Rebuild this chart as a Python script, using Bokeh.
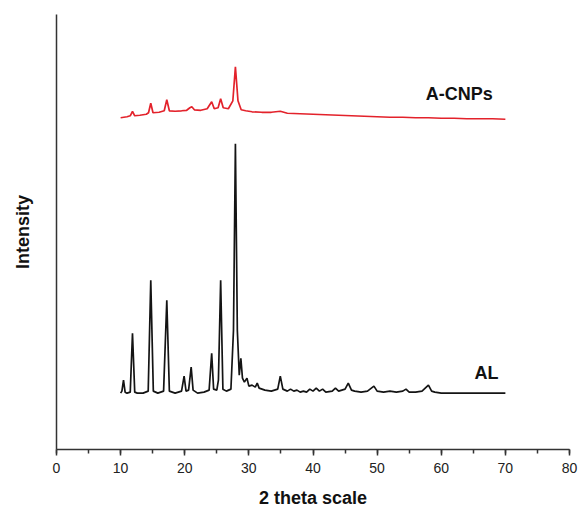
from bokeh.plotting import figure
from bokeh.models import Range1d, SingleIntervalTicker, FixedTicker, Label
from bokeh.embed import file_html
from bokeh.resources import INLINE

# 2-theta positions (degrees) and intensities (a.u.)
al_theta = [10.0, 10.2, 10.45, 10.7, 11.0, 11.5, 11.85, 12.2, 12.6, 13.5, 14.3, 14.7, 15.1, 15.8,
            16.7, 17.2, 17.6, 18.5, 19.5, 19.9, 20.2, 20.6, 21.0, 21.3, 22.0, 23.0, 23.8, 24.2,
            24.5, 25.0, 25.25, 25.6, 25.95, 26.5, 27.2, 27.6, 27.9, 28.2, 28.5, 28.75, 29.0, 29.3,
            29.7, 30.0, 30.5, 31.0, 31.3, 31.6, 32.5, 33.5, 34.5, 34.9, 35.3, 36.0, 36.5, 37.0,
            37.5, 38.0, 38.5, 39.0, 39.5, 40.0, 40.5, 41.0, 41.5, 42.0, 43.0, 43.5, 44.0, 45.0,
            45.5, 46.0, 46.5, 47.5, 48.5, 49.5, 50.0, 51.0, 52.0, 53.0, 54.0, 54.5, 55.0, 56.0,
            57.0, 58.0, 58.5, 59.0, 60.0, 62.0, 64.0, 66.0, 68.0, 70.0]
al_intensity = [57, 59, 70, 58, 57, 58, 117, 58, 57, 57, 59, 170, 59, 57,
                59, 150, 59, 57, 59, 74, 59, 60, 83, 60, 57, 58, 60, 97,
                61, 60, 70, 170, 61, 59, 61, 120, 307, 120, 75, 92, 72, 68,
                72, 64, 65, 63, 67, 62, 60, 59, 61, 74, 61, 59, 61, 59,
                60, 58, 59, 58, 61, 59, 62, 59, 61, 58, 59, 62, 59, 61,
                67, 60, 59, 58, 59, 64, 59, 58, 59, 58, 59, 61, 58, 58,
                59, 65, 59, 58, 57, 57, 57, 57, 57, 57]

cnp_theta = [10.0, 10.5, 11.0, 11.5, 11.85, 12.2, 13.0, 14.0, 14.35, 14.7, 15.05, 16.0, 16.8,
             17.2, 17.6, 18.5, 19.5, 20.3, 20.8, 21.1, 21.5, 22.5, 23.5, 24.2, 24.6, 25.2, 25.6,
             26.0, 26.8, 27.5, 27.9, 28.3, 28.8, 29.5, 30.5, 32.0, 33.5, 34.9, 36.0, 38.0, 40.0,
             42.0, 44.0, 46.0, 48.0, 50.0, 52.0, 54.0, 56.0, 58.0, 60.0, 62.0, 64.0, 66.0, 68.0, 70.0]
cnp_intensity = [333, 333.5, 334, 335, 339.5, 335, 335.5, 336.5, 338, 347.5, 338, 338.5, 340,
                 351, 340, 339.5, 340, 340.5, 343, 344, 341, 340.5, 342, 349, 342, 343, 352,
                 343, 342, 350, 384, 350, 341, 340, 339, 338.5, 338.5, 339.5, 337.5, 337, 336.5,
                 336, 335.5, 335, 334.5, 334, 333.5, 333.5, 333, 333, 332.5, 332.5, 332, 332, 332, 331.5]

series_names = ["A-CNPs", "AL"]
x_ticks_interval = 10

FONT = "Liberation Sans"

p = figure(width=579, height=510, output_backend="svg", toolbar_location=None,
           x_range=Range1d(0, 80), y_range=Range1d(0.5, 436.5),
           min_border_left=56, min_border_right=10, min_border_top=14, min_border_bottom=60)
p.outline_line_color = None
p.xgrid.grid_line_color = None
p.ygrid.grid_line_color = None
p.background_fill_color = "white"

p.line(al_theta, al_intensity, line_color="#141414", line_width=1.7)
p.line(cnp_theta, cnp_intensity, line_color="#e3222b", line_width=1.7)

xa = p.xaxis[0]
xa.ticker = SingleIntervalTicker(interval=x_ticks_interval, num_minor_ticks=2)
xa.axis_label = "2 theta scale"
xa.axis_label_text_font = FONT
xa.axis_label_text_font_style = "bold"
xa.axis_label_text_font_size = "18px"
xa.axis_label_text_color = "#111111"
xa.axis_label_standoff = 12
xa.major_label_text_font = FONT
xa.major_label_text_font_size = "14px"
xa.major_label_text_color = "#222222"
xa.major_label_standoff = 7
xa.major_tick_out = 6
xa.major_tick_in = 0
xa.minor_tick_out = 4
xa.minor_tick_in = 0
xa.axis_line_color = "#333333"
xa.axis_line_width = 1.5
xa.major_tick_line_color = "#333333"
xa.major_tick_line_width = 1.5
xa.minor_tick_line_color = "#333333"
xa.minor_tick_line_width = 1.5

ya = p.yaxis[0]
ya.ticker = FixedTicker(ticks=[])
ya.axis_label = "Intensity"
ya.axis_label_text_font = FONT
ya.axis_label_text_font_style = "bold"
ya.axis_label_text_font_size = "18px"
ya.axis_label_text_color = "#111111"
ya.axis_label_standoff = 24
ya.major_tick_out = 0
ya.major_tick_in = 0
ya.minor_tick_out = 0
ya.minor_tick_in = 0
ya.axis_line_color = "#333333"
ya.axis_line_width = 1.5

p.add_layout(Label(x=57.6, y=357, text=series_names[0], text_font=FONT, text_font_style="bold",
                   text_font_size="18px", text_baseline="middle", text_color="#111111"))
p.add_layout(Label(x=65.2, y=77, text=series_names[1], text_font=FONT, text_font_style="bold",
                   text_font_size="18px", text_baseline="middle", text_color="#111111"))

open("out.html", "w").write(file_html(p, INLINE))
